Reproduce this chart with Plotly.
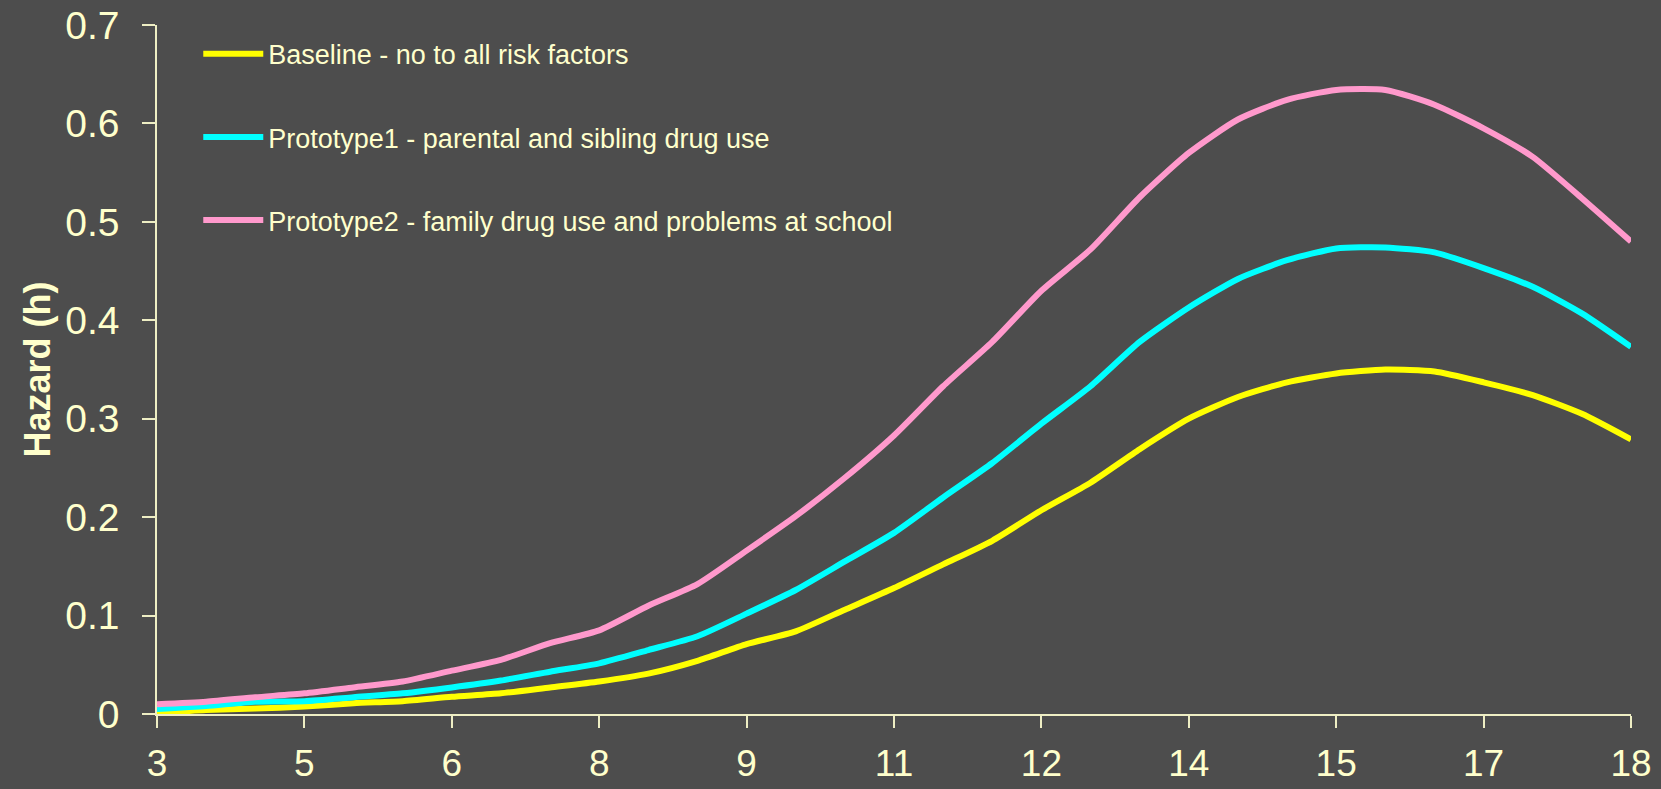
import plotly.graph_objects as go

# ---- data ----
age = [3.0, 3.5, 4.0, 4.5, 5.0, 5.5, 6.0, 6.5, 7.0, 7.5, 8.0, 8.5, 9.0, 9.5, 10.0,
       10.5, 11.0, 11.5, 12.0, 12.5, 13.0, 13.5, 14.0, 14.5, 15.0, 15.5, 16.0,
       16.5, 17.0, 17.5, 18.0]

baseline = [0.001, 0.004, 0.0055, 0.0075, 0.011, 0.013, 0.0175, 0.021, 0.027, 0.033,
            0.041, 0.054, 0.071, 0.084, 0.106, 0.128, 0.152, 0.176, 0.207, 0.235,
            0.269, 0.300, 0.322, 0.337, 0.346, 0.350, 0.348, 0.337, 0.324, 0.305, 0.279]

prototype1 = [0.005, 0.008, 0.0125, 0.013, 0.017, 0.021, 0.027, 0.034, 0.043, 0.0515,
              0.065, 0.079, 0.102, 0.126, 0.155, 0.184, 0.220, 0.255, 0.295, 0.333,
              0.378, 0.413, 0.442, 0.461, 0.473, 0.474, 0.469, 0.453, 0.434, 0.407, 0.373]

prototype2 = [0.010, 0.0125, 0.017, 0.021, 0.027, 0.033, 0.044, 0.055, 0.072, 0.085,
              0.110, 0.132, 0.166, 0.201, 0.240, 0.283, 0.333, 0.378, 0.430, 0.472,
              0.525, 0.570, 0.604, 0.624, 0.634, 0.634, 0.619, 0.595, 0.566, 0.524, 0.480]

series_names = ["Baseline - no to all risk factors",
                "Prototype1 - parental and sibling drug use",
                "Prototype2 - family drug use and problems at school"]

x_tick_vals = [3, 4.5, 6, 7.5, 9, 10.5, 12, 13.5, 15, 16.5, 18]
x_tick_text = ["3", "5", "6", "8", "9", "11", "12", "14", "15", "17", "18"]
y_tick_vals = [0, 0.1, 0.2, 0.3, 0.4, 0.5, 0.6, 0.7]
y_tick_text = ["0", "0.1", "0.2", "0.3", "0.4", "0.5", "0.6", "0.7"]

# ---- styles ----
BG = "#4d4d4d"
TXT = "#ffffcc"
AXIS = "#eeeec4"
FONT = "Liberation Sans, Arial, sans-serif"
colors = ["#ffff00", "#00ffff", "#ff99cc"]

fig = go.Figure()
for name, ys, col in zip(series_names, [baseline, prototype1, prototype2], colors):
    fig.add_trace(go.Scatter(
        x=age, y=ys, mode="lines", name=name, legendgroup=name,
        line=dict(color=col, width=6, shape="spline", smoothing=0.6),
    ))

fig.update_layout(
    width=1661, height=789,
    margin=dict(l=157, r=30, t=25, b=75, autoexpand=False),
    paper_bgcolor=BG, plot_bgcolor=BG,
    font=dict(family=FONT, color=TXT),
    showlegend=True,
    legend=dict(
        x=0.028, y=0.993, xanchor="left", yanchor="top",
        bgcolor="rgba(0,0,0,0)", borderwidth=0,
        font=dict(family=FONT, size=27, color=TXT),
        tracegroupgap=45, itemwidth=60,
    ),
)

fig.update_xaxes(
    range=[3, 18], tickmode="array", tickvals=x_tick_vals, ticktext=x_tick_text,
    showgrid=False, zeroline=False, showline=True, linecolor=AXIS, linewidth=1.5,
    ticks="outside", ticklen=12, tickwidth=1.5, tickcolor=AXIS,
    tickfont=dict(family=FONT, size=37, color=TXT), ticklabelstandoff=4,
    automargin=False,
)
fig.update_yaxes(
    range=[0, 0.7], tickmode="array", tickvals=y_tick_vals, ticktext=y_tick_text,
    showgrid=False, zeroline=False, showline=True, linecolor=AXIS, linewidth=1.5,
    ticks="outside", ticklen=13, tickwidth=1.5, tickcolor=AXIS,
    tickfont=dict(family=FONT, size=39, color=TXT), ticklabelstandoff=15,
    title=dict(text="<b>Hazard (h)</b>", font=dict(family=FONT, size=36, color=TXT),
               standoff=4),
    automargin=False,
)

fig.write_html("out.html")
